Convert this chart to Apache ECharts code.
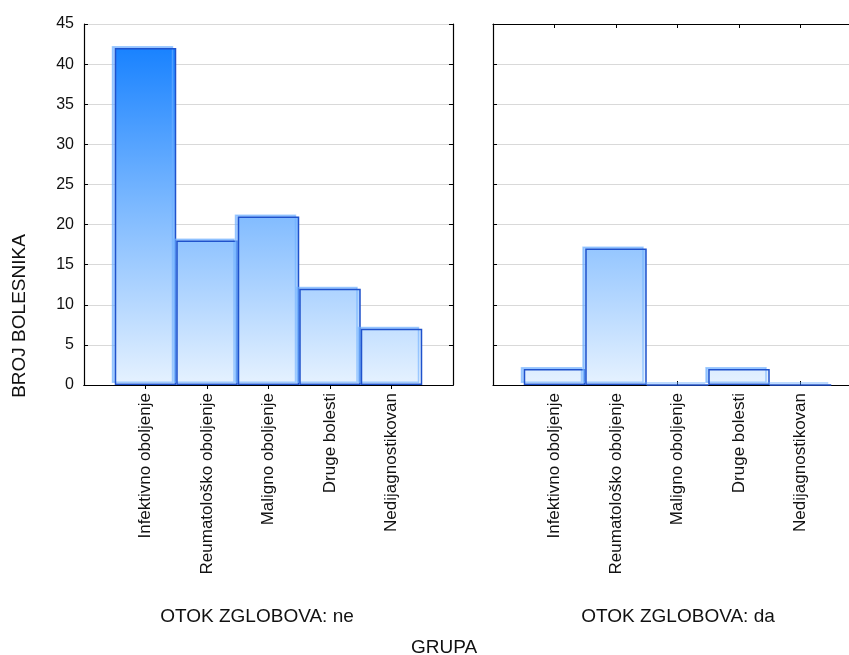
<!DOCTYPE html>
<html>
<head>
<meta charset="utf-8">
<script src="https://cdn.jsdelivr.net/npm/echarts@6/dist/echarts.min.js"></script>
<style>
html,body{margin:0;padding:0;background:#fff;}
#chart{width:849px;height:655px;}
</style>
</head>
<body>
<div id="chart"></div>
<script>
const categories = ['Infektivno oboljenje', 'Reumatološko oboljenje', 'Maligno oboljenje', 'Druge bolesti', 'Nedijagnostikovan'];
const valuesNe = [42, 18, 21, 12, 7];
const valuesDa = [2, 17, 0, 2, 0];
const panelTitles = ['OTOK ZGLOBOVA: ne', 'OTOK ZGLOBOVA: da'];
const yTitle = 'BROJ BOLESNIKA';
const xTitle = 'GRUPA';

const FONT = '"Liberation Sans", Arial, sans-serif';
const paddedCats = [''].concat(categories, ['']);
const pad = arr => ['-'].concat(arr, ['-']);

const chart = echarts.init(document.getElementById('chart'), null, {renderer: 'canvas'});

const grad = new echarts.graphic.LinearGradient(0, 24, 0, 385, [
  {offset: 0, color: '#0a7aff'},
  {offset: 0.5, color: '#7bb8ff'},
  {offset: 1, color: '#e6f2ff'}
], true);

const tickInterval = (i, v) => v !== '';
function xAxisBottom(g, showLabel) {
  return {
    gridIndex: g, type: 'category', data: paddedCats, boundaryGap: false, position: 'bottom',
    axisLine: {lineStyle: {color: '#000', width: 1.2}},
    axisTick: {inside: true, length: 4, interval: tickInterval, lineStyle: {color: '#000'}},
    axisLabel: {show: showLabel, rotate: 90, interval: tickInterval, margin: 8,
      fontFamily: FONT, fontSize: 17, color: '#111'},
    splitLine: {show: false}
  };
}
function xAxisTop(g) {
  return {
    gridIndex: g, type: 'category', data: paddedCats, boundaryGap: false, position: 'top',
    axisLine: {lineStyle: {color: '#000', width: 1.2}},
    axisTick: {inside: true, length: 4, interval: tickInterval, lineStyle: {color: '#000'}},
    axisLabel: {show: false}, splitLine: {show: false}
  };
}
function yAxis(g, pos, showLabel, split) {
  return {
    gridIndex: g, type: 'value', min: 0, max: 45, interval: 5, position: pos,
    axisLine: {show: true, lineStyle: {color: '#000', width: 1.2}},
    axisTick: {show: true, inside: true, length: 4, lineStyle: {color: '#000'}},
    axisLabel: {show: showLabel, fontFamily: FONT, fontSize: 16, color: '#111', margin: 10},
    splitLine: {show: split, lineStyle: {color: '#d9d9d9', width: 1.2}}
  };
}
const barStyle = {
  color: grad,
  borderColor: '#1f52cc',
  borderWidth: 1.5,
  shadowColor: 'rgba(110,175,255,0.6)',
  shadowBlur: 0,
  shadowOffsetX: -3,
  shadowOffsetY: -2
};

chart.setOption({
  animation: false,
  backgroundColor: '#fff',
  grid: [
    {left: 84, top: 24, width: 369, height: 361, outerBoundsMode: 'none', containLabel: false},
    {left: 493, top: 24, width: 369, height: 361, outerBoundsMode: 'none', containLabel: false}
  ],
  xAxis: [xAxisBottom(0, true), xAxisTop(0), xAxisBottom(1, true), xAxisTop(1)],
  yAxis: [yAxis(0, 'left', true, true), yAxis(0, 'right', false, false), yAxis(1, 'left', false, true)],
  series: [
    {type: 'bar', xAxisIndex: 0, yAxisIndex: 0, data: pad(valuesNe), barWidth: '100%', itemStyle: barStyle},
    {type: 'bar', xAxisIndex: 2, yAxisIndex: 2, data: pad(valuesDa), barWidth: '100%', itemStyle: barStyle}
  ],
  graphic: [
    {type: 'text', x: 257, y: 617, style: {text: panelTitles[0], font: '19px ' + FONT, fill: '#111', align: 'center', verticalAlign: 'middle'}},
    {type: 'text', x: 678, y: 617, style: {text: panelTitles[1], font: '19px ' + FONT, fill: '#111', align: 'center', verticalAlign: 'middle'}},
    {type: 'text', x: 444, y: 648, style: {text: xTitle, font: '19px ' + FONT, fill: '#111', align: 'center', verticalAlign: 'middle'}},
    {type: 'text', x: 20, y: 316, rotation: Math.PI / 2, style: {text: yTitle, font: '19px ' + FONT, fill: '#111', align: 'center', verticalAlign: 'middle'}}
  ]
});
</script>
</body>
</html>
